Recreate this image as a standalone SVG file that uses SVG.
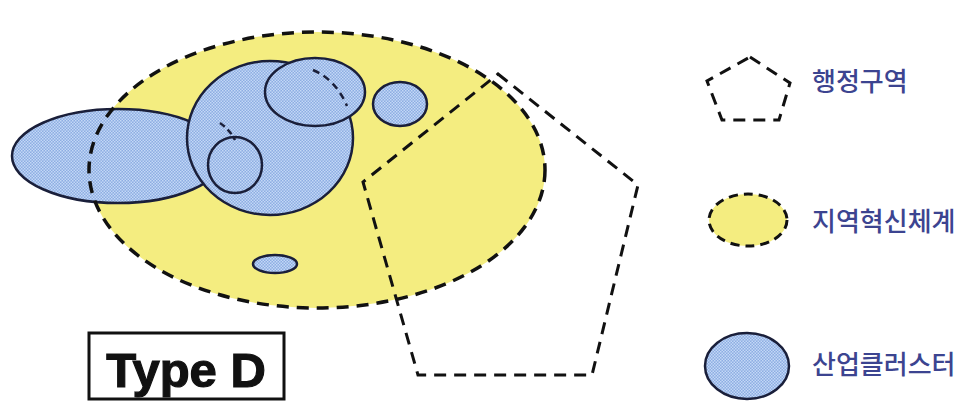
<svg xmlns="http://www.w3.org/2000/svg" width="968" height="403" viewBox="0 0 968 403">
<defs>
<pattern id="dots" width="3" height="3" patternUnits="userSpaceOnUse">
<rect width="3" height="3" fill="#8dadE2"/>
<rect width="1.5" height="1.5" fill="#c3d8f6"/>
<rect x="1.5" y="1.5" width="1.5" height="1.5" fill="#c3d8f6"/>
</pattern>
<style>
.yel{fill:#f4ed80;stroke:none}
.ydash{fill:none;stroke:#111;stroke-width:3.5;stroke-dasharray:12 8}
.blue{fill:url(#dots);stroke:#1a1f3a;stroke-width:2.5}
.bfill{fill:url(#dots);stroke:none}
.thin{fill:none;stroke:#1a1f3a;stroke-width:2.5}
.pent{fill:none;stroke:#111;stroke-width:3;stroke-dasharray:12 8;stroke-linejoin:miter}
.lbl{font-family:"Noto Sans CJK KR","Noto Sans",sans-serif;font-size:26px;font-weight:500;fill:#3c4490}
</style>
</defs>
<rect width="968" height="403" fill="#fff"/>

<g id="region">
<ellipse class="yel" cx="317" cy="170" rx="228" ry="138"/>
</g>

<g id="cluster-left">
<ellipse class="blue" cx="118" cy="156" rx="106" ry="47"/>
</g>

<g id="cluster-main">
<ellipse class="bfill" cx="315" cy="92" rx="50" ry="34"/>
<ellipse class="blue" cx="270" cy="138" rx="83" ry="77"/>
<ellipse class="blue" cx="315" cy="92" rx="50" ry="34"/>
<path class="thin" d="M313,70 Q336,80 347,106" stroke-dasharray="7 5"/>
<ellipse class="thin" cx="235" cy="165" rx="27" ry="28"/>
<path class="thin" d="M220,123 Q230,130 235,140" stroke-dasharray="6 4"/>
</g>

<g id="cluster-small">
<ellipse class="blue" cx="400" cy="104" rx="27" ry="22"/>
<ellipse class="blue" cx="275" cy="264" rx="22" ry="9"/>
</g>

<g id="region-outline">
<ellipse class="ydash" cx="317" cy="170" rx="228" ry="138"/>
</g>

<g id="admin">
<polygon class="pent" points="498,74 638,185 592,375 418,375 363,182"/>
</g>

<g id="label-type">
<rect x="89" y="333" width="195" height="66" fill="#fff" stroke="#111" stroke-width="3"/>
<text x="186" y="387" text-anchor="middle" font-family="Liberation Sans, Arial, sans-serif" font-size="49" font-weight="bold" fill="#111" stroke="#111" stroke-width="1.2">Type D</text>
</g>

<g id="legend-admin">
<polygon class="pent" points="750,57 790,83 779,120 722,120 707,81" stroke-width="2.5" stroke-dasharray="9 7"/>
<text class="lbl" x="812" y="91">행정구역</text>
</g>

<g id="legend-region">
<ellipse cx="748" cy="220" rx="39" ry="26" fill="#f4ed80" stroke="#111" stroke-width="3" stroke-dasharray="9 6"/>
<text class="lbl" x="812" y="231">지역혁신체계</text>
</g>

<g id="legend-cluster">
<ellipse cx="747" cy="366" rx="42" ry="33" fill="url(#dots)" stroke="#1a1f3a" stroke-width="2.5"/>
<text class="lbl" x="812" y="374">산업클러스터</text>
</g>
</svg>
